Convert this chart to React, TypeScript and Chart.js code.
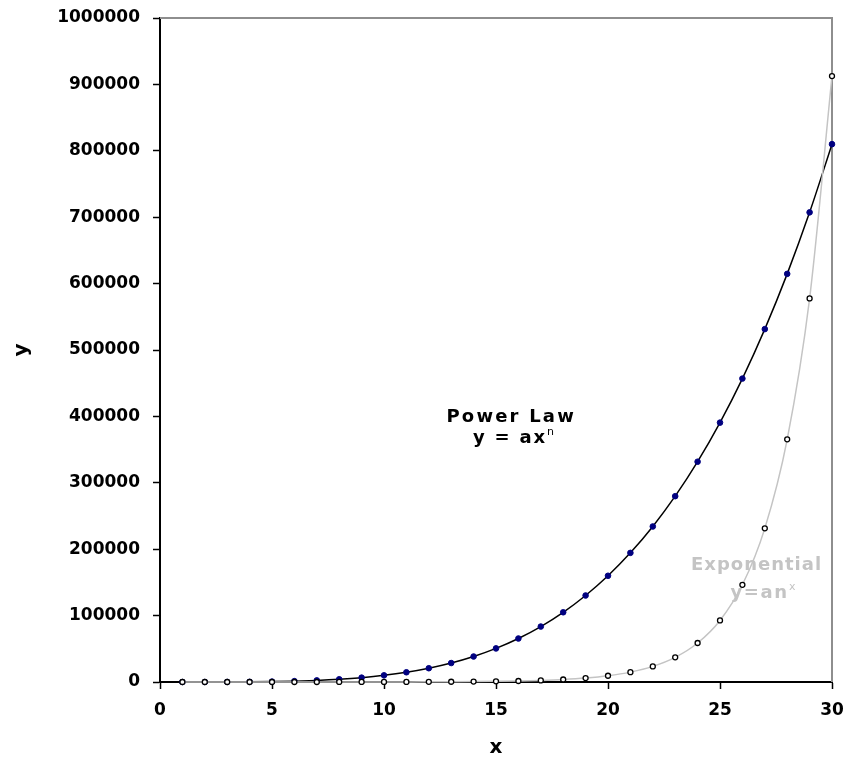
import React, { useEffect, useRef } from 'react';
import { Chart, registerables } from 'chart.js';

Chart.register(...registerables);

// ---- data ----
const powerX = [1, 2, 3, 4, 5, 6, 7, 8, 9, 10, 11, 12, 13, 14, 15, 16, 17, 18, 19, 20, 21, 22, 23, 24, 25, 26, 27, 28, 29, 30];
const powerY = [1, 16, 81, 256, 625, 1296, 2401, 4096, 6561, 10000, 14641, 20736, 28561, 38416, 50625, 65536, 83521, 104976, 130321, 160000, 194481, 234256, 279841, 331776, 390625, 456976, 531441, 614656, 707281, 810000];

const expX = [1, 2, 3, 4, 5, 6, 7, 8, 9, 10, 11, 12, 13, 14, 15, 16, 17, 18, 19, 20, 21, 22, 23, 24, 25, 26, 27, 28, 29, 30];
const expY = [1.6, 2.5, 3.9, 6.2, 9.8, 15.6, 24.6, 38.8, 61, 97, 153, 242, 383, 605, 956, 1510, 2390, 3770, 5960, 9410, 14870, 23500, 37100, 58700, 92700, 146400, 231400, 365500, 577600, 912600];

const xMin = 0;
const xMax = 30;
const xStep = 5;
const yMin = 0;
const yMax = 1000000;
const yStep = 100000;

const xTitle = 'x';
const yTitle = 'y';

const powerLabel = ['Power Law', 'y = ax', 'n'];
const expLabel = ['Exponential', 'y=an', 'x'];
// anchor positions in data units (center x, baseline y)
const powerLabelPos = [[15.63, 391600], [15.78, 360000]];
const expLabelPos = [[26.61, 168700], [26.92, 126500]];

const FONT = '"DejaVu Sans", "Liberation Sans", Arial, sans-serif';

type NoteLine = { text: string; sup?: string; x: number; y: number; ls: number; color: string };

const notes: NoteLine[] = [
  { text: powerLabel[0], x: powerLabelPos[0][0], y: powerLabelPos[0][1], ls: 2.2, color: '#000000' },
  { text: powerLabel[1], sup: powerLabel[2], x: powerLabelPos[1][0], y: powerLabelPos[1][1], ls: 1.8, color: '#000000' },
  { text: expLabel[0], x: expLabelPos[0][0], y: expLabelPos[0][1], ls: 1.0, color: '#c4c4c4' },
  { text: expLabel[1], sup: expLabel[2], x: expLabelPos[1][0], y: expLabelPos[1][1], ls: 1.6, color: '#c4c4c4' },
];

const notesPlugin = {
  id: 'notes',
  beforeDatasetsDraw(chart: any) {
    const { ctx, scales, chartArea } = chart;
    const xs = scales.x;
    const ys = scales.y;
    // plot-area frame on top and right (gray)
    ctx.save();
    ctx.strokeStyle = '#8e8e8e';
    ctx.lineWidth = 2;
    ctx.beginPath();
    ctx.moveTo(chartArea.left, chartArea.top);
    ctx.lineTo(chartArea.right, chartArea.top);
    ctx.lineTo(chartArea.right, chartArea.bottom);
    ctx.stroke();
    ctx.restore();

    for (const n of notes) {
      const cx = xs.getPixelForValue(n.x);
      const by = ys.getPixelForValue(n.y);
      ctx.save();
      ctx.fillStyle = n.color;
      ctx.textAlign = 'left';
      ctx.textBaseline = 'alphabetic';
      ctx.font = `bold 18px ${FONT}`;
      (ctx as any).letterSpacing = `${n.ls}px`;
      const mainW = ctx.measureText(n.text).width - n.ls;
      let supW = 0;
      if (n.sup) {
        ctx.font = `11px ${FONT}`;
        (ctx as any).letterSpacing = '0px';
        supW = ctx.measureText(n.sup).width + 2;
      }
      const left = cx - (mainW + supW) / 2;
      ctx.font = `bold 18px ${FONT}`;
      (ctx as any).letterSpacing = `${n.ls}px`;
      ctx.fillText(n.text, left, by);
      if (n.sup) {
        ctx.font = `11px ${FONT}`;
        (ctx as any).letterSpacing = '0px';
        ctx.fillText(n.sup, left + mainW + 2, by - 8);
      }
      ctx.restore();
    }
  },
};

export default function App() {
  const ref = useRef<HTMLCanvasElement | null>(null);

  useEffect(() => {
    if (!ref.current) return;
    const chart = new Chart(ref.current, {
      type: 'scatter',
      data: {
        datasets: [
          {
            label: 'Exponential',
            data: expX.map((x, i) => ({ x, y: expY[i] })),
            showLine: true,
            borderColor: '#c4c4c4',
            borderWidth: 1.5,
            cubicInterpolationMode: 'monotone',
            pointRadius: 2.5,
            pointBackgroundColor: '#ffffff',
            pointBorderColor: '#000000',
            pointBorderWidth: 1.3,
            clip: false,
            order: 0,
          } as any,
          {
            label: 'Power Law',
            data: powerX.map((x, i) => ({ x, y: powerY[i] })),
            showLine: true,
            borderColor: '#000000',
            borderWidth: 1.5,
            cubicInterpolationMode: 'monotone',
            pointRadius: 2.8,
            pointBackgroundColor: '#000080',
            pointBorderColor: '#000080',
            pointBorderWidth: 1,
            clip: false,
            order: 1,
          } as any,
        ],
      },
      options: {
        responsive: false,
        animation: false,
        devicePixelRatio: 1,
        layout: { padding: { left: 0, top: 18, right: 12, bottom: 0 } },
        plugins: {
          legend: { display: false },
          tooltip: { enabled: false },
        },
        scales: {
          x: {
            type: 'linear',
            min: xMin,
            max: xMax,
            afterFit: (s: any) => {
              s.height = 80;
              s.paddingLeft = 0;
              s.paddingRight = 0;
            },
            ticks: {
              stepSize: xStep,
              color: '#000',
              padding: 11,
              font: { family: FONT, size: 17, weight: 'bold' },
              maxRotation: 0,
            },
            grid: {
              drawOnChartArea: false,
              drawTicks: true,
              tickLength: 7,
              tickColor: '#000',
              tickWidth: 1.5,
            },
            border: { color: '#000', width: 2 },
            title: {
              display: true,
              text: xTitle,
              color: '#000',
              font: { family: FONT, size: 20, weight: 'bold' },
              padding: { top: 0, bottom: 2 },
            },
          },
          y: {
            type: 'linear',
            min: yMin,
            max: yMax,
            afterFit: (s: any) => {
              s.width = 160;
              s.paddingTop = 0;
              s.paddingBottom = 0;
            },
            ticks: {
              stepSize: yStep,
              color: '#000',
              padding: 13,
              font: { family: FONT, size: 17, weight: 'bold' },
              callback: (v: any) => String(v),
            },
            grid: {
              drawOnChartArea: false,
              drawTicks: true,
              tickLength: 7,
              tickColor: '#000',
              tickWidth: 1.5,
            },
            border: { color: '#000', width: 2 },
            title: {
              display: true,
              text: yTitle,
              color: '#000',
              font: { family: FONT, size: 20, weight: 'bold' },
              padding: { top: 10, bottom: 0 },
            },
          },
        },
      } as any,
      plugins: [notesPlugin],
    });
    return () => chart.destroy();
  }, []);

  return (
    <div style={{ position: 'fixed', left: 0, top: 0, width: 844, height: 762, background: '#ffffff' }}>
      <canvas ref={ref} width={844} height={762} style={{ display: 'block', width: 844, height: 762 }} />
    </div>
  );
}
